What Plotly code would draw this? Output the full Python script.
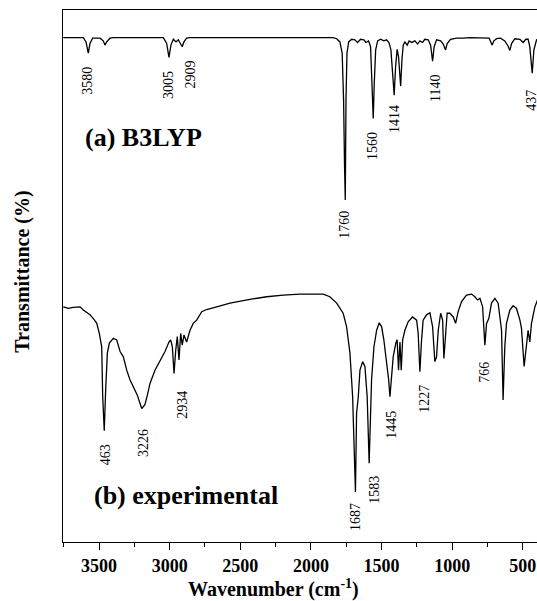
import plotly.graph_objects as go

# ---- B3LYP computed spectrum (wavenumber cm-1, transmittance a.u.) ----
b3_wn = [3753, 3611, 3592, 3576, 3564, 3545, 3493, 3470, 3458, 3446, 3422, 3399,
         3045, 3021, 3005, 2991, 2974, 2955, 2939, 2922, 2911, 2899, 2880, 2856,
         1842, 1818, 1795, 1779, 1769, 1762, 1757, 1752, 1745, 1733, 1712, 1689,
         1670, 1649, 1625, 1611, 1592, 1578, 1566, 1559, 1552, 1542, 1528, 1507,
         1484, 1465, 1448, 1434, 1422, 1411, 1401, 1390, 1380, 1365, 1356, 1347,
         1335, 1319, 1305, 1286, 1264, 1245, 1229, 1210, 1194, 1170, 1153, 1139,
         1128, 1111, 1082, 1064, 1047, 1036, 1012, 969, 922, 875, 739, 724, 717,
         705, 686, 658, 628, 604, 592, 580, 557, 521, 498, 479, 463, 451, 434,
         422, 403, 394]
b3_t = [94.8, 94.8, 94.0, 91.9, 93.7, 94.7, 94.7, 94.2, 93.4, 94.0, 94.7, 94.8,
        94.8, 93.7, 91.1, 93.4, 94.5, 94.0, 94.4, 93.7, 93.1, 94.0, 94.7, 94.8,
        94.8, 94.6, 94.0, 91.9, 83.1, 70.5, 64.3, 83.1, 91.9, 94.0, 94.5, 94.4,
        93.9, 94.5, 94.4, 93.9, 94.2, 93.1, 86.2, 79.6, 86.2, 92.5, 94.2, 94.5,
        94.2, 94.4, 93.9, 92.5, 88.1, 84.0, 89.3, 92.6, 91.2, 85.7, 90.6, 93.4,
        94.0, 93.4, 94.2, 93.9, 94.2, 93.6, 94.2, 93.9, 94.5, 94.4, 93.4, 90.4,
        93.1, 94.4, 94.2, 93.6, 92.5, 93.7, 94.5, 94.7, 94.7, 94.8, 94.7, 94.0, 93.4,
        94.2, 94.6, 94.7, 94.2, 93.2, 92.4, 93.7, 94.6, 94.5, 93.9, 94.5, 94.5, 93.1, 88.1,
        92.5, 94.4, 94.5]

# ---- experimental spectrum ----
ex_wn = [3753, 3717, 3682, 3634, 3611, 3564, 3540, 3516, 3498, 3481, 3474, 3463,
         3453, 3441, 3427, 3399, 3375, 3351, 3328, 3304, 3281, 3257, 3229, 3198,
         3175, 3158, 3139, 3104, 3068, 3033, 3005, 2993, 2981, 2969, 2957, 2946,
         2934, 2922, 2911, 2899, 2880, 2856, 2833, 2809, 2773, 2738, 2667, 2573,
         2432, 2313, 2196, 2078, 1913, 1866, 1818, 1772, 1748, 1724, 1705, 1694,
         1685, 1677, 1665, 1653, 1634, 1618, 1602, 1588, 1571, 1554, 1535, 1517,
         1500, 1484, 1465, 1450, 1441, 1429, 1418, 1399, 1390, 1380, 1370, 1361,
         1351, 1335, 1312, 1281, 1252, 1241, 1229, 1217, 1206, 1182, 1158, 1139,
         1123, 1111, 1099, 1082, 1068, 1059, 1047, 1036, 1017, 993, 976, 958, 934,
         899, 863, 840, 821, 804, 785, 769, 757, 741, 722, 698, 675, 651, 640, 628,
         616, 592, 569, 545, 521, 510, 491, 474, 463, 451, 439, 415, 392]
ex_t = [44.2, 43.9, 44.1, 44.2, 43.6, 42.7, 42.0, 41.1, 39.2, 36.7, 27.3, 20.9,
        28.6, 35.5, 37.4, 38.3, 38.0, 35.8, 34.8, 32.3, 30.5, 29.2, 27.6, 25.1,
        25.8, 27.6, 29.8, 32.3, 34.2, 35.8, 37.6, 38.0, 36.7, 31.7, 36.1, 38.6,
        34.2, 39.2, 37.0, 38.9, 37.6, 39.8, 41.1, 41.7, 43.3, 43.7, 44.2, 44.9,
        45.6, 46.1, 46.4, 46.6, 46.6, 46.1, 44.9, 43.0, 40.5, 35.5, 27.3, 19.2,
        9.4, 24.2, 27.3, 32.3, 33.9, 33.0, 27.3, 14.8, 30.5, 36.7, 39.8, 41.2,
        40.5, 38.0, 34.2, 30.5, 27.3, 30.5, 34.8, 37.4, 38.0, 32.3, 37.6, 32.3,
        38.0, 39.8, 41.4, 42.3, 41.7, 39.2, 32.0, 38.0, 41.7, 42.7, 43.1, 40.5,
        33.9, 34.8, 39.8, 43.0, 41.7, 34.5, 39.8, 43.0, 43.0, 42.3, 41.1, 43.3, 45.2,
        46.4, 46.6, 46.1, 45.5, 45.8, 44.2, 37.0, 41.1, 42.0, 44.9, 45.8, 44.9, 39.8, 26.7, 36.7,
        41.1, 43.6, 44.4, 43.9, 41.7, 40.2, 33.0, 38.0, 39.8, 37.6, 41.1, 44.2, 45.8]

# ---- peak labels ----
b3_lab = ["3580", "3005", "2909", "1760", "1560", "1414", "1140", "437"]
b3_lab_wn = [3578, 3012, 2852, 1760, 1569, 1413, 1123, 437]
b3_lab_t = [86.7, 85.9, 87.8, 59.6, 74.4, 79.5, 85.3, 83.1]

ex_lab = ["463", "3226", "2934", "1687", "1583", "1445", "1227", "766"]
ex_lab_wn = [3458, 3189, 2906, 1689, 1547, 1427, 1194, 769]
ex_lab_t = [16.5, 18.6, 25.8, 4.7, 9.8, 22.0, 26.9, 32.0]

FONT = "Liberation Serif"

fig = go.Figure()
fig.add_trace(go.Scatter(x=b3_wn, y=b3_t, mode="lines",
                         line=dict(color="black", width=1.3), showlegend=False))
fig.add_trace(go.Scatter(x=ex_wn, y=ex_t, mode="lines",
                         line=dict(color="black", width=1.3), showlegend=False))

for txt, x, y in list(zip(b3_lab, b3_lab_wn, b3_lab_t)) + list(zip(ex_lab, ex_lab_wn, ex_lab_t)):
    fig.add_annotation(x=x, y=y, text=txt, textangle=-90, showarrow=False,
                       xanchor="center", yanchor="middle",
                       font=dict(family=FONT, size=14, color="black"))

fig.add_annotation(x=3613, y=76.1, text="<b>(a) B3LYP</b>", showarrow=False,
                   xanchor="left", yanchor="middle",
                   font=dict(family=FONT, size=26, color="black"))
fig.add_annotation(x=3549, y=8.8, text="<b>(b) experimental</b>", showarrow=False,
                   xanchor="left", yanchor="middle",
                   font=dict(family=FONT, size=26, color="black"))

fig.add_annotation(xref="paper", yref="paper", x=0.445, y=-0.087,
                   xanchor="center", yanchor="middle",
                   text="<b>Wavenumber (cm<sup>-1</sup>)</b>", showarrow=False,
                   font=dict(family=FONT, size=20, color="black"))
fig.add_annotation(xref="paper", yref="paper", x=-0.0844, y=0.508,
                   xanchor="center", yanchor="middle",
                   text="<b>Transmittance (%)</b>", textangle=-90, showarrow=False,
                   font=dict(family=FONT, size=20, color="black"))

fig.update_layout(
    width=537, height=601,
    margin=dict(l=63, r=0, t=10, b=59, autoexpand=False),
    paper_bgcolor="white", plot_bgcolor="white",
    xaxis=dict(range=[3755, 400], showgrid=False, zeroline=False,
               showline=True, linecolor="black", linewidth=1.2, mirror=True,
               ticks="outside", ticklen=7, tickcolor="black",
               tickvals=[3500, 3000, 2500, 2000, 1500, 1000, 500],
               ticktext=["3500", "3000", "2500", "2000", "1500", "1000", "500"],
               tickfont=dict(family=FONT, size=18, color="black", weight="bold"),
               minor=dict(ticks="outside", ticklen=4, dtick=250, tickcolor="black", showgrid=False)),
    yaxis=dict(range=[0, 100], showgrid=False, zeroline=False,
               showline=True, linecolor="black", linewidth=1.2,
               showticklabels=False, ticks=""),
)

fig.write_html("out.html", config={"displayModeBar": False},
               post_script="document.body.style.margin='0';document.body.style.overflow='hidden';")
